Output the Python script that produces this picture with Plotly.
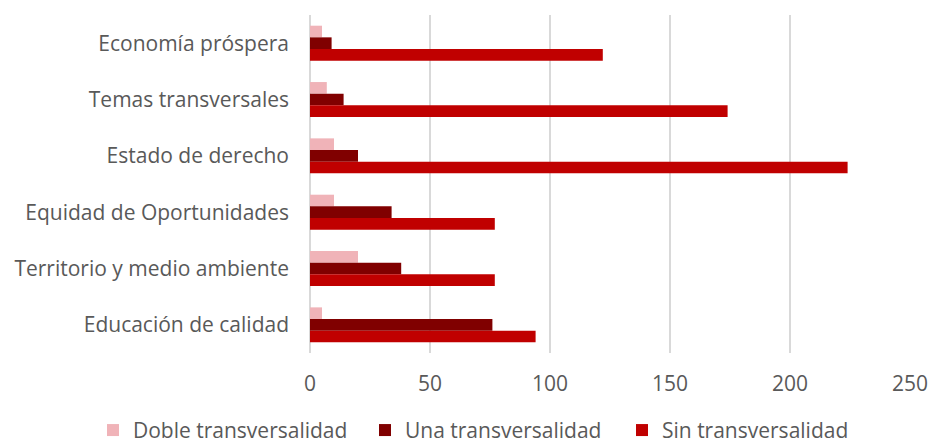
import plotly.graph_objects as go

categories = ["Economía próspera", "Temas transversales", "Estado de derecho",
              "Equidad de Oportunidades", "Territorio y medio ambiente", "Educación de calidad"]
doble = [5, 7, 10, 10, 20, 5]
una = [9, 14, 20, 34, 38, 76]
sin = [122, 174, 224, 77, 77, 94]
series_names = ["Doble transversalidad", "Una transversalidad", "Sin transversalidad"]
colors = ["#F0B3B8", "#800000", "#C00000"]
legend_widths = [227, 212, None]
x_ticks = [0, 50, 100, 150, 200, 250]

fig = go.Figure()
for name, vals, col, lw in zip(series_names, [doble, una, sin], colors, legend_widths):
    fig.add_trace(go.Bar(y=categories, x=vals, name=name, orientation="h",
                         legendwidth=lw,
                         marker=dict(color=col, line=dict(width=0))))

font_family = "Open Sans"
fs = 21
fig.update_layout(
    width=931, height=446,
    margin=dict(l=310, r=21, t=15, b=93, autoexpand=False),
    paper_bgcolor="white", plot_bgcolor="white",
    barmode="group", bargap=0.38, bargroupgap=0,
    font=dict(family=font_family, size=fs, color="#595959"),
    showlegend=True,
    legend=dict(orientation="h", xref="paper", x=-0.3617, xanchor="left",
                yref="paper", y=-0.229, yanchor="middle",
                font=dict(size=fs, color="#595959"), traceorder="normal",
                itemwidth=30),
    xaxis=dict(range=[0, 250], tickvals=x_ticks, showgrid=True, gridcolor="#D9D9D9",
               gridwidth=2, zeroline=True, zerolinecolor="#D9D9D9", zerolinewidth=2,
               automargin=False, ticklabelstandoff=16,
               tickfont=dict(size=fs, color="#595959"), fixedrange=True),
    yaxis=dict(autorange="reversed", showgrid=False, ticklabelstandoff=20,
               automargin=False, tickfont=dict(size=fs, color="#595959"), fixedrange=True),
)
fig.write_html("out.html", config={"displayModeBar": False},
               post_script="document.body.style.margin='0';")
